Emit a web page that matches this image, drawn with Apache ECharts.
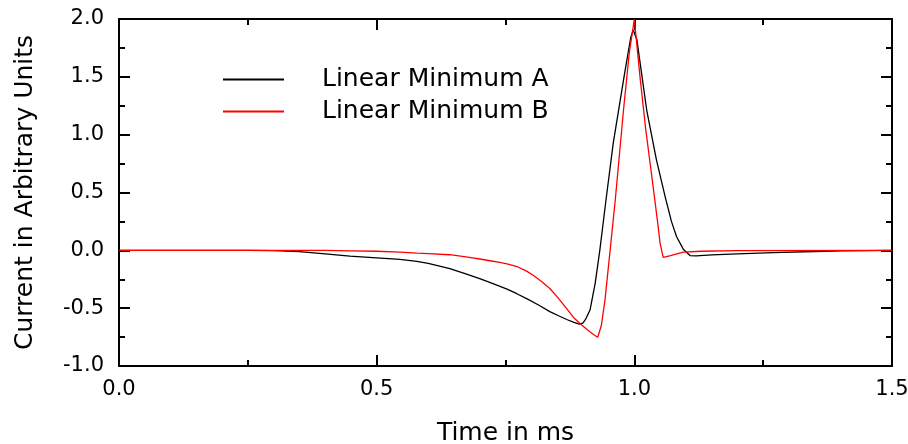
<!DOCTYPE html>
<html>
<head>
<meta charset="utf-8">
<script src="https://cdn.jsdelivr.net/npm/echarts@6/dist/echarts.min.js"></script>
<style>
  html, body { margin: 0; padding: 0; background: #fff; }
  #chart { width: 908px; height: 444px; }
</style>
</head>
<body>
<div id="chart"></div>
<script>
// Time axis samples (ms) and current values for each waveform
const timeA = [0, 0.1, 0.2, 0.25, 0.3, 0.35, 0.4, 0.448, 0.5, 0.545, 0.578, 0.6, 0.62, 0.642, 0.67, 0.7, 0.727, 0.753, 0.772, 0.792, 0.815, 0.836, 0.855, 0.87, 0.883, 0.893, 0.9, 0.905, 0.914, 0.924, 0.933, 0.945, 0.959, 0.98, 0.993, 0.998, 1.005, 1.015, 1.024, 1.043, 1.06, 1.072, 1.082, 1.095, 1.108, 1.12, 1.15, 1.2, 1.27, 1.35, 1.4, 1.5];
const currentA = [0, 0, 0, 0, -0.003, -0.012, -0.03, -0.05, -0.065, -0.078, -0.095, -0.113, -0.134, -0.158, -0.2, -0.245, -0.29, -0.335, -0.375, -0.42, -0.475, -0.53, -0.57, -0.6, -0.622, -0.637, -0.63, -0.6, -0.516, -0.285, 0.0, 0.435, 0.925, 1.5, 1.84, 1.905, 1.82, 1.5, 1.213, 0.78, 0.46, 0.25, 0.118, 0.01, -0.045, -0.048, -0.04, -0.03, -0.02, -0.01, -0.005, 0];

const timeB = [0, 0.1, 0.2, 0.3, 0.4, 0.45, 0.5, 0.545, 0.578, 0.6, 0.642, 0.68, 0.7, 0.72, 0.739, 0.755, 0.772, 0.791, 0.805, 0.82, 0.836, 0.85, 0.868, 0.882, 0.895, 0.91, 0.92, 0.929, 0.936, 0.943, 0.953, 0.963, 0.979, 0.99, 1.0, 1.011, 1.022, 1.034, 1.045, 1.05, 1.056, 1.07, 1.095, 1.13, 1.2, 1.5];
const currentB = [0, 0, 0, 0, 0, -0.004, -0.008, -0.016, -0.024, -0.028, -0.038, -0.06, -0.075, -0.09, -0.105, -0.12, -0.14, -0.18, -0.22, -0.27, -0.33, -0.4, -0.5, -0.58, -0.635, -0.69, -0.725, -0.752, -0.65, -0.43, 0.0, 0.435, 1.213, 1.7, 2.0, 1.5, 1.05, 0.636, 0.25, 0.06, -0.06, -0.045, -0.015, -0.008, -0.003, 0];

const seriesNames = ['Linear Minimum A', 'Linear Minimum B'];
const tickFormat = v => v.toFixed(1);

const pairs = (xs, ys) => xs.map((x, i) => [x, ys[i]]);

const FONT = 'DejaVu Sans';
const frameLine = { show: true, onZero: false, lineStyle: { color: '#000', width: 2 } };
const innerTick = { show: true, inside: true, length: 11, lineStyle: { color: '#000', width: 2 } };
const innerMinor = { show: true, splitNumber: 2, length: 6, lineStyle: { color: '#000', width: 2 } };

const chart = echarts.init(document.getElementById('chart'), null, { renderer: 'canvas' });
chart.setOption({
  animation: false,
  backgroundColor: '#fff',
  grid: { left: 119, right: 16, top: 19, bottom: 78, containLabel: false, outerBoundsMode: 'none' },
  legend: {
    orient: 'vertical',
    left: 217,
    top: 62,
    itemWidth: 61,
    itemHeight: 25,
    itemGap: 7,
    data: seriesNames,
    itemStyle: { opacity: 0 },
    textStyle: { fontFamily: FONT, fontSize: 25, color: '#000', lineHeight: 25, padding: [0, 0, 0, 33] }
  },
  xAxis: [
    {
      type: 'value', min: 0, max: 1.5, interval: 0.5,
      name: 'Time in ms', nameLocation: 'middle', nameGap: 55,
      nameTextStyle: { fontFamily: FONT, fontSize: 25, color: '#000' },
      axisLine: frameLine, axisTick: innerTick, minorTick: innerMinor,
      splitLine: { show: false },
      axisLabel: { fontFamily: FONT, fontSize: 21, color: '#000', margin: 13, formatter: tickFormat }
    },
    {
      type: 'value', position: 'top', min: 0, max: 1.5, interval: 0.5,
      axisLine: frameLine, axisTick: innerTick, minorTick: innerMinor,
      splitLine: { show: false }, axisLabel: { show: false }
    }
  ],
  yAxis: [
    {
      type: 'value', min: -1, max: 2, interval: 0.5,
      name: 'Current in Arbitrary Units', nameLocation: 'middle', nameGap: 81,
      nameTextStyle: { fontFamily: FONT, fontSize: 25, color: '#000' },
      axisLine: frameLine, axisTick: innerTick, minorTick: innerMinor,
      splitLine: { show: false },
      axisLabel: { fontFamily: FONT, fontSize: 21, color: '#000', margin: 15, formatter: tickFormat }
    },
    {
      type: 'value', position: 'right', min: -1, max: 2, interval: 0.5,
      axisLine: frameLine, axisTick: innerTick, minorTick: innerMinor,
      splitLine: { show: false }, axisLabel: { show: false }
    }
  ],
  series: [
    {
      name: seriesNames[0], type: 'line', symbol: 'none', showSymbol: false,
      data: pairs(timeA, currentA),
      lineStyle: { color: '#000', width: 1.3 }, itemStyle: { color: '#000' }
    },
    {
      name: seriesNames[1], type: 'line', symbol: 'none', showSymbol: false,
      data: pairs(timeB, currentB),
      lineStyle: { color: '#f00', width: 1.3 }, itemStyle: { color: '#f00' }
    }
  ]
});
</script>
</body>
</html>
